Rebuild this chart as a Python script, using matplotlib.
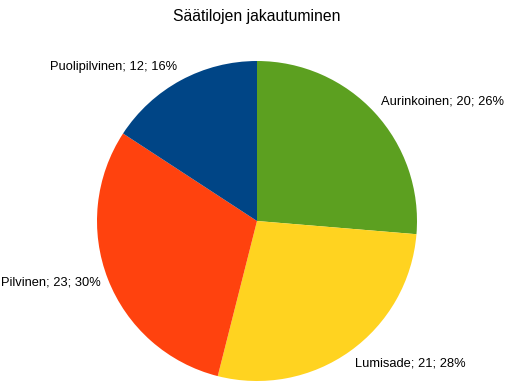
import numpy as np
import matplotlib
matplotlib.use('Agg')
import matplotlib.pyplot as plt

plt.rcParams['font.family'] = ['Liberation Sans', 'DejaVu Sans']

# Data
categories = ['Aurinkoinen', 'Lumisade', 'Pilvinen', 'Puolipilvinen']
counts = [20, 21, 23, 12]
colors = ['#5ca020', '#ffd320', '#ff420e', '#004586']
title = 'Säätilojen jakautuminen'

W, H = 508, 384
fig = plt.figure(figsize=(W / 100, H / 100), dpi=100)

# pie centre (257, 221) px, radius 160 px
cx, cy, r = 257, 221, 160
ax = fig.add_axes([(cx - r) / W, (H - cy - r) / H, 2 * r / W, 2 * r / H])
wedges, _ = ax.pie(counts, colors=colors, startangle=90, counterclock=False,
                   radius=1, wedgeprops=dict(linewidth=0))
ax.set_xlim(-1, 1)
ax.set_ylim(-1, 1)
ax.axis('off')

total = sum(counts)
for w, name, c in zip(wedges, categories, counts):
    mid = np.deg2rad((w.theta1 + w.theta2) / 2)
    x, y = 1.05 * np.cos(mid), 1.05 * np.sin(mid)
    ha = 'left' if x > 0 else 'right'
    if y > 0.6:
        va = 'bottom'
    elif y < -0.6:
        va = 'top'
    else:
        va = 'center'
    pct = round(100 * c / total)
    ax.text(x, y, f'{name}; {c}; {pct}%', ha=ha, va=va, fontsize=9.3,
            clip_on=False)

fig.text(cx / W, 1 - 16 / H, title, ha='center', va='center', fontsize=11.3)

fig.savefig('out.png', dpi=100)
